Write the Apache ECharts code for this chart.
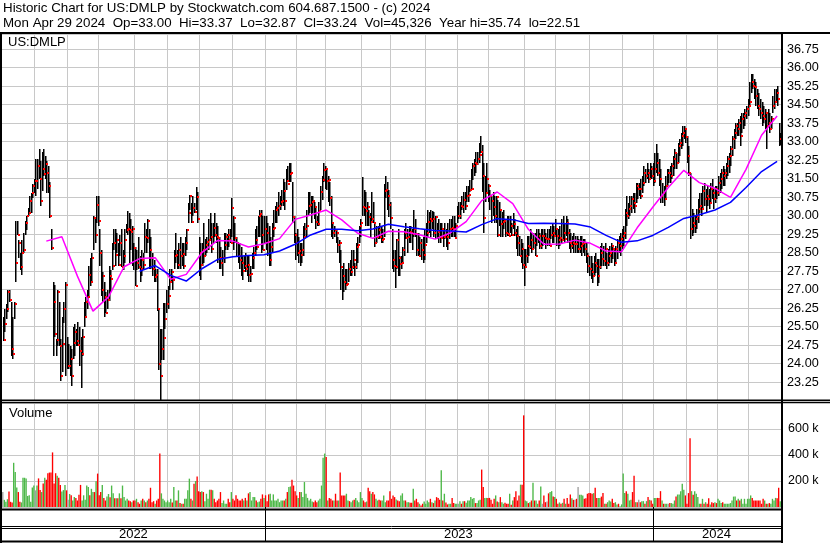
<!DOCTYPE html>
<html><head><meta charset="utf-8">
<script src="https://cdn.jsdelivr.net/npm/echarts@6/dist/echarts.min.js"></script>
<style>html,body{margin:0;padding:0;background:#fff}#c{width:830px;height:543px}</style>
</head><body><div id="c"></div>
<script>
// ---------------- DATA ----------------
const START_DATE = '2022-05-02', END_DATE = '2024-04-29';
const HOLIDAYS = ['2022-05-30','2022-06-20','2022-07-04','2022-09-05','2022-11-24','2022-12-26',
  '2023-01-02','2023-01-16','2023-02-20','2023-04-07','2023-05-29','2023-06-19','2023-07-04','2023-09-04','2023-11-23','2023-12-25',
  '2024-01-01','2024-01-15','2024-02-19','2024-03-29'];

const highs = [
/*May22*/25.9,26.2,26.4,27.0,27.0,26.5,25.9,26.5,29.8,29.8,29.0,28.5,29.0,29.3,29.8,30.0,30.3,30.8,30.9,31.3,31.5,
/*Jun22*/32.3,32.3,32.7,32.2,32.6,32.7,32.4,32.2,32.0,31.35,29.45,27.3,27.2,25.0,27.0,26.5,25.0,25.9,26.5,27.3,25.1,
/*Jul22*/24.8,24.7,24.6,25.5,25.6,25.4,25.7,25.5,25.1,25.4,26.5,26.7,27.0,27.95,28.3,28.5,30.0,29.9,30.8,30.8,
/*Aug22*/29.45,28.6,27.7,27.3,26.9,27.0,27.95,27.8,28.9,29.45,29.45,29.3,28.9,29.2,29.45,28.6,29.45,29.65,30.2,30.1,29.85,29.6,28.9,
/*Sep22*/28.75,28.6,29.15,28.35,28.6,28.5,29.7,29.45,29.85,29.45,29.15,28.5,28.2,27.85,27.85,26.2,25.4,25.4,26.45,26.45,27.0,
/*Oct22*/27.15,27.85,27.85,27.55,28.6,29.3,28.6,28.9,29.15,28.9,28.9,29.15,29.45,30.5,30.85,30.5,30.8,30.5,31.15,30.95,29.15,
/*Nov22*/28.9,28.9,29.7,29.05,29.15,29.85,30.1,29.7,29.7,30.1,29.7,29.6,29.15,28.75,28.6,29.3,29.3,29.25,29.45,29.45,30.7,
/*Dec22*/30.0,29.7,29.15,28.9,28.9,28.75,28.35,28.35,28.5,28.35,28.35,27.95,28.5,28.75,29.45,29.6,30.0,30.25,30.25,30.0,30.0,
/*Jan23*/30.0,29.7,29.6,29.15,29.7,30.25,30.4,30.55,30.95,30.8,31.05,31.5,31.35,31.9,32.0,32.15,32.15,31.35,30.0,29.3,
/*Feb23*/29.45,29.15,28.9,28.9,29.6,29.7,30.25,30.95,30.95,30.8,30.8,30.55,30.4,30.0,30.55,31.2,31.6,32.15,32.0,
/*Mar23*/31.9,31.6,31.35,30.8,29.7,29.6,29.45,29.15,29.0,28.6,27.85,28.1,27.85,27.85,28.1,28.2,28.6,28.6,28.1,28.9,29.15,29.6,29.85,
/*Apr23*/31.55,31.05,30.95,30.55,30.25,30.1,30.95,30.55,29.7,29.6,29.6,29.7,29.6,29.45,31.3,31.6,31.35,31.05,30.55,
/*May23*/29.45,28.6,28.6,29.05,29.45,28.35,28.35,28.75,29.45,29.7,29.45,29.6,29.6,29.45,30.25,29.85,29.3,29.3,29.15,29.05,29.15,29.45,
/*Jun23*/29.7,30.25,30.15,30.25,30.2,30.15,30.0,29.7,29.85,29.7,29.7,29.45,29.7,29.45,29.7,29.85,29.85,30.0,30.0,29.7,30.4,
/*Jul23*/30.55,30.55,30.8,30.95,30.95,31.2,31.2,31.45,31.9,32.15,32.3,32.6,32.6,32.95,33.25,32.85,32.15,31.6,32.15,31.3,
/*Aug23*/31.05,30.8,30.95,30.8,30.8,30.65,30.55,30.25,30.15,30.25,29.85,29.99,29.99,29.99,29.7,30.1,29.85,29.45,29.6,29.17,29.05,28.9,28.63,
/*Sep23*/28.63,29.17,29.17,29.45,29.31,29.31,29.31,29.45,29.45,29.31,29.45,29.45,29.45,29.31,29.45,29.45,29.58,29.72,29.58,29.85,
/*Oct23*/29.45,29.45,29.6,29.85,29.99,29.72,29.99,29.85,29.45,29.31,29.17,29.31,29.17,29.17,29.04,29.17,29.17,29.04,29.04,28.9,28.5,28.36,
/*Nov23*/28.36,28.09,28.36,28.5,28.23,28.23,28.77,28.9,28.77,28.9,28.5,28.63,28.77,28.9,28.77,28.63,28.77,29.04,29.17,29.31,29.45,
/*Dec23*/29.58,30.26,30.8,30.53,30.8,30.8,30.93,30.93,31.34,31.34,31.34,31.47,31.61,32.02,31.88,32.15,31.88,32.15,32.02,32.15,
/*Jan24*/32.56,32.9,32.56,32.29,31.88,31.34,31.2,31.61,31.88,31.88,32.02,32.15,32.42,32.69,32.56,32.96,33.1,33.37,33.64,33.64,33.5,
/*Feb24*/33.23,32.83,31.75,30.26,30.12,29.99,30.26,30.66,30.93,30.93,31.2,31.34,31.07,31.2,31.07,31.34,31.47,31.07,31.2,31.2,
/*Mar24*/31.61,31.75,31.88,32.02,31.88,32.15,32.42,32.56,32.83,33.23,33.5,33.77,33.77,33.91,34.04,34.18,34.18,34.32,34.45,34.72,
/*Apr24*/35.4,35.74,35.74,35.53,35.4,35.13,34.99,34.72,34.59,34.45,34.32,34.18,34.32,34.18,34.04,34.86,35.13,35.13,35.26,33.77,33.37
];
const lows = [
/*May22*/24.9,25.3,25.8,26.1,26.5,24.3,24.2,25.8,27.3,29.2,28.3,27.8,27.6,28.5,29.2,29.4,30.0,30.1,30.1,30.7,30.9,
/*Jun22*/30.8,31.1,31.5,30.4,31.0,31.6,31.5,30.9,30.9,29.9,28.6,24.3,25.1,24.3,24.7,24.7,23.3,23.65,25.65,23.5,23.8,
/*Jul22*/23.8,23.5,23.1,24.2,24.3,24.7,24.7,23.9,23.0,24.3,25.5,25.9,26.2,26.75,27.15,27.3,28.6,28.9,29.7,29.6,
/*Aug22*/27.95,26.75,26.5,25.9,26.05,26.2,26.55,26.9,27.8,28.6,27.95,28.5,27.95,28.35,27.9,27.8,28.1,29.3,29.2,28.1,28.6,27.95,27.8,
/*Sep22*/27.15,27.8,27.85,27.3,27.55,27.8,28.5,28.5,28.9,27.85,27.85,27.55,27.3,27.3,26.15,23.75,22.51,24.15,24.15,25.4,26.05,
/*Oct22*/26.2,27.0,27.3,27.0,27.85,28.1,27.85,27.85,27.85,27.95,27.85,28.35,28.6,29.7,30.25,29.7,30.0,30.1,30.25,29.7,27.55,
/*Nov22*/27.4,27.95,28.1,28.35,28.5,28.6,29.05,28.5,28.9,29.15,28.9,28.1,27.85,27.85,27.55,28.1,28.6,28.6,28.75,28.9,29.15,
/*Dec22*/28.6,28.9,28.35,28.1,27.85,27.55,27.4,27.85,27.7,27.55,27.3,27.3,27.85,27.85,28.35,28.6,29.15,29.15,28.5,28.6,28.9,
/*Jan23*/28.6,28.35,27.95,27.95,28.5,29.15,29.7,29.7,30.0,30.25,30.4,30.4,30.25,31.05,31.35,31.35,31.35,29.7,28.9,28.2,
/*Feb23*/28.35,28.1,27.95,28.1,28.35,29.05,29.15,30.0,30.1,29.7,30.1,29.85,29.45,29.6,29.6,30.25,30.65,31.35,31.1,
/*Mar23*/31.05,30.55,30.4,29.15,29.05,29.15,28.9,28.5,28.1,27.0,26.6,26.9,27.0,27.15,27.3,27.55,27.55,27.85,27.55,27.85,28.1,28.9,29.15,
/*Apr23*/30.0,30.0,29.6,29.6,29.6,29.15,29.7,29.7,28.75,28.9,29.05,29.05,28.9,28.9,29.15,30.7,30.25,29.95,29.45,
/*May23*/27.85,27.7,27.05,27.85,27.55,27.55,27.85,28.1,28.35,29.05,28.5,28.9,28.9,28.6,29.15,29.15,28.35,28.35,28.35,28.2,28.1,28.2,
/*Jun23*/28.9,29.15,29.3,29.15,29.45,29.15,29.05,29.05,28.9,28.9,29.05,28.75,29.05,28.75,28.6,29.05,29.15,29.15,29.15,29.15,29.7,
/*Jul23*/29.85,29.85,30.25,30.1,30.25,30.55,30.55,30.95,31.05,31.45,31.6,31.75,32.05,32.15,32.55,30.95,29.3,30.55,30.95,30.55,
/*Aug23*/30.25,29.7,30.0,29.7,29.7,29.15,29.6,29.15,29.15,29.45,29.15,29.17,29.17,29.3,29.17,29.45,29.17,28.63,28.36,28.36,28.09,27.82,27.15,
/*Sep23*/27.96,28.09,28.36,28.63,28.5,28.63,28.36,28.77,28.9,28.63,28.63,28.77,28.9,28.63,28.77,28.77,29.04,28.9,28.9,29.17,
/*Oct23*/28.77,28.63,28.77,28.9,29.04,28.9,29.17,28.9,28.63,28.5,28.63,28.5,28.5,28.5,28.5,28.5,28.36,28.5,28.36,28.09,27.69,27.55,
/*Nov23*/27.42,27.28,27.55,27.69,27.15,27.28,27.82,27.96,27.96,27.96,27.82,27.96,28.09,28.09,28.23,27.96,28.09,28.23,28.5,28.36,28.63,
/*Dec23*/28.77,29.04,29.58,29.85,29.99,30.12,30.26,30.12,30.53,30.66,30.8,30.66,30.93,31.2,31.34,31.47,31.34,31.47,31.47,31.2,
/*Jan24*/31.34,31.75,31.61,31.2,30.53,30.53,30.39,30.66,31.2,31.34,31.34,31.47,31.61,31.88,31.88,32.15,32.42,32.69,32.83,33.1,32.96,
/*Feb24*/32.15,31.61,29.04,29.17,29.31,29.31,29.45,29.72,30.12,29.99,30.26,30.39,30.12,30.39,30.26,30.53,30.66,30.26,30.53,30.66,
/*Mar24*/30.8,30.93,31.07,31.2,31.2,31.47,31.61,31.75,32.02,32.42,32.69,33.1,33.23,33.23,32.83,33.37,33.5,33.64,33.91,34.04,
/*Apr24*/34.45,34.99,35.13,34.72,34.45,34.32,34.04,33.91,33.64,33.77,33.5,32.69,33.64,33.37,33.5,34.18,34.32,34.59,34.45,32.83,32.87
];
const closes = [
/*May22*/24.95,25.6,26.2,26.9,26.6,24.6,24.4,26.4,28.1,29.2,28.9,27.9,28.5,28.6,29.7,30.0,30.1,30.6,30.9,31.2,31.4,
/*Jun22*/31.4,32.0,31.5,30.6,31.9,31.7,32.1,31.75,31.2,30.0,28.7,26.5,25.2,24.95,26.9,24.7,23.5,24.8,26.2,27.2,23.9,
/*Jul22*/23.9,24.2,23.5,24.85,25.3,24.9,24.75,24.5,24.4,25.1,25.9,26.5,26.7,27.6,27.3,28.3,29.9,29.2,30.45,29.8,
/*Aug22*/28.5,27.0,27.55,26.7,26.05,26.6,27.55,27.45,27.95,28.9,28.4,29.0,28.0,28.9,27.9,28.35,29.0,29.4,29.45,29.4,29.35,29.45,28.7,
/*Sep22*/27.15,28.1,27.9,27.85,28.2,28.0,29.15,29.1,29.8,28.6,28.3,27.85,27.5,27.6,26.2,24.0,23.5,24.6,25.05,25.8,26.4,
/*Oct22*/26.75,27.3,27.7,27.4,28.35,28.4,28.0,28.6,28.35,28.45,27.95,28.9,29.4,30.1,30.8,29.75,30.3,30.15,30.75,29.85,28.5,
/*Nov22*/28.0,28.6,28.35,28.8,28.95,29.0,29.15,28.65,29.5,29.2,29.15,29.1,28.3,28.1,28.3,28.8,29.15,29.2,29.0,28.9,30.3,
/*Dec22*/29.9,29.1,28.9,28.35,28.2,28.1,27.75,27.95,27.85,28.0,27.6,27.65,28.3,28.5,29.0,28.75,30.0,30.05,29.2,28.6,29.45,
/*Jan23*/29.3,28.95,28.2,28.75,29.45,29.5,30.25,30.3,30.4,30.55,30.6,31.0,30.6,31.4,31.3,31.7,31.75,29.95,29.2,28.9,
/*Feb23*/28.5,28.55,28.4,28.6,29.15,29.45,29.6,30.4,30.45,30.55,30.6,30.35,29.75,29.65,30.2,30.95,31.45,31.85,31.9,
/*Mar23*/31.4,31.45,30.7,29.7,29.3,29.4,29.3,28.8,28.9,27.9,27.55,27.3,27.2,27.25,27.85,27.7,27.9,28.2,27.9,28.75,28.8,29.6,29.7,
/*Apr23*/30.35,30.3,30.2,30.35,29.95,29.75,29.85,29.72,28.9,29.15,29.4,29.15,29.0,29.05,31.0,31.05,30.8,30.45,29.9,
/*May23*/28.2,27.95,27.9,29.0,28.3,28.05,28.1,28.6,29.3,29.1,29.15,29.35,29.3,29.25,29.45,29.25,28.6,28.35,28.9,28.6,28.4,28.8,
/*Jun23*/29.3,29.75,29.85,29.8,29.85,29.3,29.95,29.35,29.15,29.1,29.45,29.15,29.2,29.15,28.9,29.45,29.5,29.45,29.1,29.6,30.0,
/*Jul23*/30.0,30.4,30.35,30.65,30.4,30.8,30.85,31.05,31.1,32.0,32.15,32.1,32.3,32.45,32.6,31.6,29.9,30.9,31.5,31.2,
/*Aug23*/30.8,30.6,30.35,30.0,30.75,29.2,30.25,29.65,29.75,29.8,29.3,29.25,29.17,29.6,29.2,29.65,29.3,29.17,28.9,28.36,28.63,28.0,27.9,
/*Sep23*/28.36,28.77,28.72,29.0,28.63,28.9,28.36,29.04,29.17,28.77,29.17,29.17,29.1,29.04,29.04,28.77,29.2,29.31,29.17,29.45,
/*Oct23*/29.17,29.0,29.1,29.0,29.3,29.04,29.72,29.31,28.9,28.77,28.9,28.84,28.84,28.63,28.63,28.77,28.84,28.9,28.63,28.36,27.96,27.82,
/*Nov23*/27.7,27.55,28.09,27.96,27.55,27.9,28.5,28.23,28.15,28.63,28.1,28.36,28.5,28.77,28.63,28.09,28.63,28.9,28.77,29.04,29.17,
/*Dec23*/29.31,30.12,30.0,30.26,30.4,30.66,30.53,30.39,31.2,31.07,31.07,30.8,31.34,31.75,31.61,31.75,31.47,31.88,31.61,31.4,
/*Jan24*/31.88,32.15,31.75,31.47,30.8,30.93,30.66,31.2,31.75,31.75,31.61,32.02,32.29,32.56,32.15,32.83,32.96,33.23,33.37,33.5,33.2,
/*Feb24*/32.42,31.75,29.45,29.7,29.58,29.85,29.99,30.26,30.39,30.26,31.0,30.66,30.8,30.66,30.53,31.07,30.93,30.66,31.07,30.93,
/*Mar24*/31.34,31.47,31.75,31.61,31.75,32.02,32.29,32.42,32.69,33.1,33.37,33.64,33.5,33.77,33.23,33.91,34.04,34.18,34.32,34.45,
/*Apr24*/34.59,35.4,35.26,35.2,34.86,34.45,34.32,34.18,34.04,33.91,34.18,33.64,33.77,33.5,33.91,34.45,34.59,34.99,34.72,33.1,33.24
];
// volume in thousands of shares
const volumes = [
/*May22*/115,55,40,60,120,40,35,340,270,150,115,40,35,225,225,220,85,90,40,150,165,
/*Jun22*/128,165,220,130,115,180,225,210,260,265,265,420,180,260,240,225,170,120,130,170,128,
/*Jul22*/55,100,90,50,76,70,50,95,170,50,90,55,165,153,90,140,115,115,198,257,
/*Aug22*/90,115,170,70,50,80,100,75,165,105,68,68,68,105,68,165,76,50,63,50,45,37,50,
/*Sep22*/50,63,37,25,50,63,50,37,50,63,148,37,45,25,50,63,411,105,63,50,37,
/*Oct22*/50,37,63,35,153,50,50,128,30,25,25,63,63,128,218,63,50,179,200,235,122,
/*Nov22*/115,122,115,45,102,63,133,133,128,63,37,50,63,115,30,50,25,25,63,37,115,
/*Dec22*/63,50,90,63,50,50,63,50,70,50,105,115,50,76,76,50,37,42,63,97,70,
/*Jan23*/90,45,97,102,50,97,50,50,63,37,50,50,50,63,115,153,158,210,165,122,
/*Feb23*/89,70,115,115,76,192,102,70,50,63,42,37,50,37,50,63,165,378,411,
/*Mar23*/385,50,70,63,50,50,102,50,50,265,89,89,89,102,50,45,37,50,55,70,50,37,115,
/*Apr23*/70,50,37,42,148,122,102,115,97,63,50,55,50,50,89,37,50,50,122,
/*May23*/63,89,76,58,50,45,89,105,50,50,37,37,32,32,140,50,63,37,25,12,25,42,
/*Jun23*/25,50,37,63,37,30,50,76,70,55,283,50,102,35,20,25,25,70,30,25,25,
/*Jul23*/25,45,25,45,45,32,50,50,76,63,70,30,30,50,55,288,153,70,70,70,
/*Aug23*/70,55,25,63,89,42,37,76,37,25,32,25,25,102,18,50,76,122,50,89,172,172,705,
/*Sep23*/50,45,30,37,50,187,50,50,25,50,158,25,89,37,42,105,115,122,80,76,
/*Oct23*/63,25,35,25,32,63,25,70,25,96,68,55,55,63,153,94,94,89,63,68,102,107,
/*Nov23*/107,102,107,148,70,70,70,80,107,25,25,37,50,42,63,30,37,20,25,5,20,
/*Dec23*/257,107,122,102,50,55,115,241,37,37,55,37,45,45,25,45,76,55,50,25,
/*Jan24*/70,70,70,70,122,50,25,25,25,25,30,30,25,50,80,96,96,122,179,133,89,
/*Feb24*/25,107,528,122,94,122,102,76,25,25,63,25,37,25,68,20,37,30,37,30,
/*Mar24*/63,50,30,37,25,25,25,25,30,50,80,80,50,63,50,63,25,63,25,63,
/*Apr24*/63,89,70,50,50,50,50,50,25,63,50,25,25,30,25,63,50,70,68,148,45
];
// moving averages every MA_STEP sessions
const MA_STEP = 10, PINK_START = 28, BLUE_START = 88;
const pinkMA = [28.97,29.15,27.55,26.13,26.71,27.93,28.26,28.3,27.42,27.62,28.5,28.99,28.97,28.73,28.86,29.07,
  29.85,30.03,30.23,29.83,29.3,29.08,29.37,29.35,29.23,29.05,29.31,29.76,30.61,30.96,30.49,29.45,28.84,28.85,
  29.01,28.88,28.57,28.54,29.51,30.34,31.14,31.84,31.34,31.11,30.74,31.88,33.26,34.04];
const blueMA = [27.75,27.98,27.58,27.35,27.85,28.22,28.34,28.39,28.42,28.57,28.84,29.22,29.45,29.45,29.39,29.46,
  29.65,29.55,29.47,29.4,29.38,29.34,29.64,29.88,29.84,29.68,29.69,29.68,29.66,29.54,29.2,28.92,28.98,29.2,
  29.53,29.89,30.04,30.23,30.54,31.14,31.79,32.2];
const headerLine1 = 'Historic Chart for US:DMLP by Stockwatch.com 604.687.1500 - (c) 2024';
const headerLine2 = 'Mon Apr 29 2024  Op=33.00  Hi=33.37  Lo=32.87  Cl=33.24  Vol=45,326  Year hi=35.74  lo=22.51';

// ---------------- BUILD ----------------
const dates = [];
for (let d = new Date(START_DATE + 'T00:00:00Z'); d <= new Date(END_DATE + 'T00:00:00Z'); d.setUTCDate(d.getUTCDate() + 1)) {
  const wd = d.getUTCDay(), s = d.toISOString().slice(0, 10);
  if (wd === 0 || wd === 6 || HOLIDAYS.includes(s)) continue;
  dates.push(s);
}
const N = dates.length;
const monthStart = dates.map((s, i) => i > 0 && s.slice(0, 7) !== dates[i - 1].slice(0, 7));
const yearStart = dates.map((s, i) => i > 0 && s.slice(0, 4) !== dates[i - 1].slice(0, 4));
const yearMid = new Set();
{
  let first = 0;
  for (let i = 1; i <= N; i++) {
    if (i === N || yearStart[i]) { yearMid.add(Math.floor((first + i - 1) / 2)); first = i; }
  }
}
const FONT = "'Liberation Sans', Arial, sans-serif";
const GRID_C = '#c8c8c8';
const ohlc = highs.map((h, i) => [i, h, lows[i], closes[i]]);
const volData = volumes.map((v, i) => {
  let c = '#a0a0a0';
  if (i > 0 && closes[i] > closes[i - 1]) c = '#4db848';
  else if (i > 0 && closes[i] < closes[i - 1]) c = '#ff0000';
  return { value: v, itemStyle: { color: c } };
});
const pinkData = pinkMA.map((v, k) => [PINK_START + k * MA_STEP, v]);
const blueData = blueMA.map((v, k) => [BLUE_START + k * MA_STEP, v]);

const lines = [
  [0, 33, 830, 33, 2], [1, 32, 1, 543, 2], [782, 32, 782, 543, 2],
  [0, 400.3, 830, 400.3, 1.5], [0, 402.6, 830, 402.6, 1.5],
  [0, 509.5, 783, 509.5, 2], [0, 526.5, 783, 526.5, 1], [0, 528.5, 783, 528.5, 1],
  [0, 541.5, 783, 541.5, 2]
];
const graphic = lines.map(l => ({ type: 'line', z: 100, silent: true,
  shape: { x1: l[0], y1: l[1], x2: l[2], y2: l[3] }, style: { stroke: '#000', lineWidth: l[4] } }));
const txt = (t, x, y, size) => ({ type: 'text', z: 101, x: x, y: y, silent: true,
  style: { text: t, font: size + 'px ' + FONT, fill: '#000', verticalAlign: 'middle' } });
graphic.push(txt(headerLine1, 3, 8.6, 13.33), txt(headerLine2, 3, 23, 13.33),
  txt('US:DMLP', 8, 42, 13), txt('Volume', 9, 413.5, 13));
const lensOK = [highs, lows, closes, volumes].every(a => a.length === N);
if (!lensOK) graphic.push(txt('LEN ' + N + ' ' + highs.length + ' ' + lows.length + ' ' + closes.length + ' ' + volumes.length, 300, 300, 20));

function px(api) {
  const i = api.value(0);
  const pH = api.coord([i, api.value(1)]);
  const pL = api.coord([i, api.value(2)]);
  const pC = api.coord([i, api.value(3)]);
  return { x: Math.round(pH[0]), yH: Math.round(pH[1]), yL: Math.round(pL[1]), yC: Math.round(pC[1]) };
}

const chart = echarts.init(document.getElementById('c'), null, { renderer: 'canvas' });
chart.setOption({
  animation: false,
  backgroundColor: '#fff',
  grid: [
    { left: 2, right: 49, top: 34, height: 366.7 },
    { left: 2, right: 49, top: 403, height: 104 }
  ],
  xAxis: [
    { type: 'category', gridIndex: 0, data: dates, boundaryGap: true,
      axisLine: { show: false }, axisTick: { show: false }, axisLabel: { show: false },
      splitLine: { show: true, interval: (i) => monthStart[i], lineStyle: { color: GRID_C, width: 1 } } },
    { type: 'category', gridIndex: 1, data: dates, boundaryGap: true,
      axisLine: { show: false },
      axisTick: { show: true, interval: (i) => yearStart[i], length: 35, lineStyle: { color: '#000', width: 1 } },
      axisLabel: { show: true, interval: (i) => yearMid.has(i), formatter: (v) => v.slice(0, 4),
        margin: 21, fontSize: 13, fontFamily: FONT, color: '#000' },
      splitLine: { show: true, interval: (i) => monthStart[i], lineStyle: { color: GRID_C, width: 1 } } }
  ],
  yAxis: [
    { type: 'value', gridIndex: 0, position: 'right', min: 22.5, max: 37.366, interval: 0.75,
      axisLine: { show: false }, axisTick: { show: false },
      axisLabel: { margin: 6, fontSize: 12.7, fontFamily: FONT, color: '#000',
        formatter: (v) => (v < 23 || v > 37) ? '' : v.toFixed(2) },
      splitLine: { show: true, lineStyle: { color: GRID_C, width: 1 } } },
    { type: 'value', gridIndex: 1, position: 'right', min: 0, max: 800, interval: 200,
      axisLine: { show: false }, axisTick: { show: false },
      axisLabel: { margin: 7, fontSize: 12.5, fontFamily: FONT, color: '#000',
        formatter: (v) => (v > 0 && v < 800) ? v + ' k' : '' },
      splitLine: { show: true, lineStyle: { color: GRID_C, width: 1 } } }
  ],
  series: [
    { type: 'bar', xAxisIndex: 1, yAxisIndex: 1, data: volData, barCategoryGap: '12%', large: false },
    { type: 'custom', xAxisIndex: 0, yAxisIndex: 0, data: ohlc, encode: { x: 0, y: 1 }, z: 2,
      renderItem: function (params, api) {
        const p = px(api);
        return { type: 'rect', shape: { x: p.x, y: p.yH, width: 1.5, height: Math.max(1, p.yL - p.yH) }, style: { fill: '#000' } };
      } },
    { type: 'custom', xAxisIndex: 0, yAxisIndex: 0, data: ohlc, encode: { x: 0, y: 3 }, z: 3,
      renderItem: function (params, api) {
        const p = px(api);
        return { type: 'rect', shape: { x: p.x + 1, y: p.yC - 1, width: 2, height: 2 }, style: { fill: '#ff0000' } };
      } },
    { type: 'line', xAxisIndex: 0, yAxisIndex: 0, data: pinkData, showSymbol: false, z: 5,
      lineStyle: { color: '#ff00ff', width: 1.5 } },
    { type: 'line', xAxisIndex: 0, yAxisIndex: 0, data: blueData, showSymbol: false, z: 5,
      lineStyle: { color: '#0000ff', width: 1.5 } }
  ],
  graphic: graphic
});
</script>
</body></html>
